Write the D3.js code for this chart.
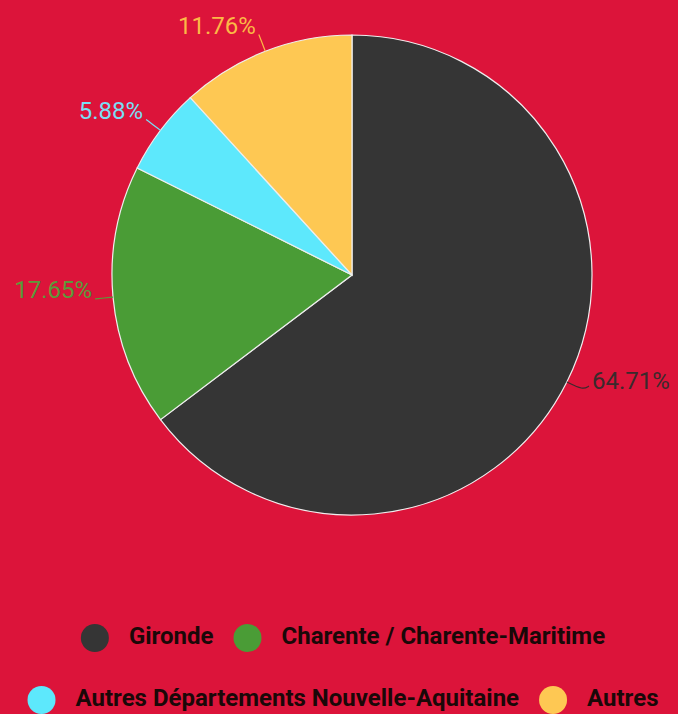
<!DOCTYPE html>
<html>
<head>
<meta charset="utf-8">
<script src="https://cdn.jsdelivr.net/npm/d3@7"></script>
<style>
  html, body { margin: 0; padding: 0; background: #dc143a; }
  svg { display: block; }
</style>
</head>
<body>
<div class="canvas"></div>
<script>
const categories = ["Gironde", "Charente / Charente-Maritime", "Autres Départements Nouvelle-Aquitaine", "Autres"]
const counts = [11, 3, 1, 2]
const colors = ["#353535", "#4a9c36", "#5de8fc", "#fec853"]
const labelColors = ["#3a2a2c", "#5b9a3a", "#79dff5", "#fbb846"]

const width = 678, height = 714
const cx = 352, cy = 275, radius = 240

const svg = d3.select(".canvas")
  .append("svg")
  .attr("width", width)
  .attr("height", height)

const total = d3.sum(counts)
const data = categories.map((c, i) => ({ name: c, value: counts[i], color: colors[i], label: labelColors[i] }))

const pie = d3.pie().value(d => d.value).sort(null)
const arcs = pie(data)
const arc = d3.arc().innerRadius(0).outerRadius(radius)

const graph = svg.append("g").attr("transform", `translate(${cx}, ${cy})`)

graph.selectAll("path.slice")
  .data(arcs)
  .enter().append("path")
  .attr("class", "slice")
  .attr("d", arc)
  .attr("fill", d => d.data.color)
  .attr("stroke", "#eeeeee")
  .attr("stroke-width", 1.2)

// outside labels with leader lines
const polar = (a, r) => [Math.sin(a) * r, -Math.cos(a) * r]
const fmt = v => (v / total * 100).toFixed(2) + "%"

arcs.forEach(d => {
  const mid = (d.startAngle + d.endAngle) / 2
  const p0 = polar(mid, radius)
  const p1 = polar(mid, radius + 18)
  const right = Math.sin(mid) > 0
  const p2 = [p1[0] + (right ? 6 : 0), p1[1] - (right ? 4 : 0)]
  graph.append("path")
    .attr("d", d3.line().curve(d3.curveBasis)([p0, p1, p2]))
    .attr("stroke", d.data.label)
    .attr("stroke-width", 1.2)
    .attr("fill", "none")
  graph.append("text")
    .attr("x", p2[0] + (right ? 3 : -3))
    .attr("y", p1[1] - 7)
    .attr("text-anchor", right ? "start" : "end")
    .attr("dominant-baseline", "middle")
    .attr("font-family", "Roboto")
    .attr("font-size", 24)
    .attr("fill", d.data.label)
    .text(fmt(d.data.value))
})

// legend, two centered rows
const legendRows = [[0, 1], [2, 3]]
const rowY = [638, 700]
const dotR = 14, dotGap = 20, itemGap = 20
const legendCenter = 343

legendRows.forEach((row, ri) => {
  const g = svg.append("g")
  let x = 0
  row.forEach(i => {
    g.append("circle")
      .attr("cx", x + dotR)
      .attr("cy", rowY[ri])
      .attr("r", dotR)
      .attr("fill", colors[i])
    const t = g.append("text")
      .attr("x", x + dotR * 2 + dotGap)
      .attr("y", rowY[ri])
      .attr("dominant-baseline", "middle")
      .attr("font-family", "Roboto")
      .attr("font-weight", "bold")
      .attr("font-size", 24)
      .attr("fill", "#1a0808")
      .text(categories[i])
    x += dotR * 2 + dotGap + t.node().getComputedTextLength() + itemGap
  })
  const w = x - itemGap
  g.attr("transform", `translate(${legendCenter - w / 2}, 0)`)
})
</script>
</body>
</html>
